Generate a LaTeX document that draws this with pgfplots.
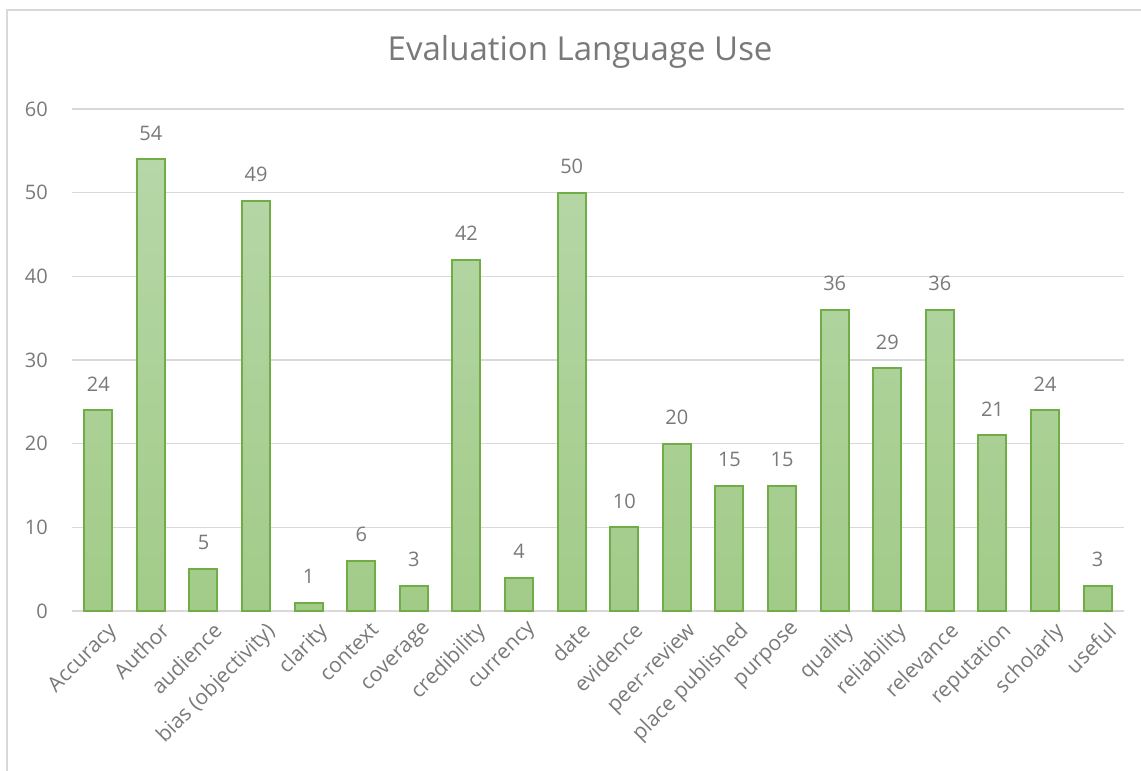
\documentclass[border=0pt]{standalone}
\usepackage{fontspec}
\setmainfont{Open Sans}
\usepackage{pgfplots}
\pgfplotsset{compat=1.18}

\definecolor{txt}{HTML}{797979}
\definecolor{gridc}{HTML}{D9D9D9}
\definecolor{barline}{HTML}{70AD47}
\definecolor{bartop}{HTML}{B6D7A8}
\definecolor{barbot}{HTML}{A2CB88}

\pgfplotstableread{
x  n
0  24
1  54
2  5
3  49
4  1
5  6
6  3
7  42
8  4
9  50
10 10
11 20
12 15
13 15
14 36
15 29
16 36
17 21
18 24
19 3
}\evaldata

\begin{document}
\begin{tikzpicture}
\path[use as bounding box] (-72pt,-160pt) rectangle (1069pt,611pt);
\draw[gridc, line width=1.5pt] (-65pt,-162pt) -- (-65pt,601pt) -- (1071pt,601pt);
\begin{axis}[
  scale only axis,
  width=1052pt, height=502pt,
  xmin=-0.5, xmax=19.5,
  ymin=0, ymax=60,
  ytick={0,10,...,60},
  xtick=data,
  xticklabels={Accuracy,Author,audience,bias (objectivity),clarity,context,coverage,credibility,currency,date,evidence,peer-review,place published,purpose,quality,reliability,relevance,reputation,scholarly,useful},
  axis line style={draw=none},
  tick style={draw=none},
  ymajorgrids, xmajorgrids=false,
  grid style={draw=gridc, line width=1.5pt},
  /pgf/number format/assume math mode=true,
  yticklabel style={font=\fontsize{20}{24}\selectfont, text=txt, inner sep=0pt, anchor=east, xshift=-24pt},
  xticklabel style={font=\fontsize{21}{25}\selectfont, text=txt, inner sep=0pt, rotate=45, anchor=north east, xshift=2pt, yshift=-10pt},
  title={Evaluation Language Use},
  title style={at={(0.483,1)}, anchor=base, yshift=43pt, inner sep=0pt, font=\fontsize{33}{39}\selectfont, text=txt},
  ybar, bar width=28pt,
  nodes near coords,
  nodes near coords style={font=\fontsize{20}{24}\selectfont, text=txt, inner sep=0pt, anchor=south, yshift=18pt},
]
\addplot[draw=barline, line width=2pt, top color=bartop, bottom color=barbot] table[x=x, y=n] {\evaldata};
\end{axis}
\end{tikzpicture}
\end{document}
